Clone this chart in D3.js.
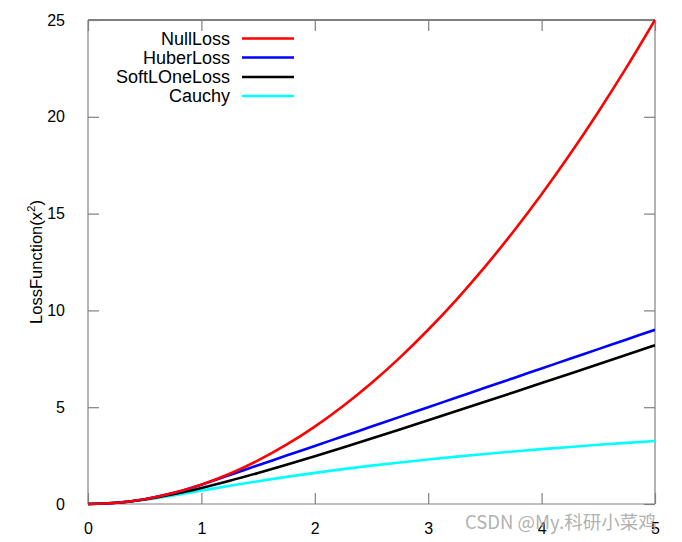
<!DOCTYPE html>
<html><head><meta charset="utf-8">
<script src="https://cdn.jsdelivr.net/npm/d3@7/dist/d3.min.js"></script>
<style>body{margin:0;background:#fff;} svg{display:block;}</style>
</head><body><svg id="c" width="682" height="542"></svg>
<script>
const xs = [0,0.25,0.5,0.75,1,1.25,1.5,1.75,2,2.25,2.5,2.75,3,3.25,3.5,3.75,4,4.25,4.5,4.75,5];
const nullLoss = [0,0.0625,0.25,0.5625,1,1.5625,2.25,3.0625,4,5.0625,6.25,7.5625,9,10.5625,12.25,14.0625,16,18.0625,20.25,22.5625,25];
const huberLoss = [0,0.0625,0.25,0.5625,1,1.5,2,2.5,3,3.5,4,4.5,5,5.5,6,6.5,7,7.5,8,8.5,9];
const softLOneLoss = [0,0.0616,0.2361,0.5,0.8284,1.2016,1.6056,2.0311,2.4721,2.9244,3.3852,3.8524,4.3246,4.8007,5.2801,5.7621,6.2462,6.7321,7.2195,7.7082,8.198];
const cauchy = [0,0.0606,0.2231,0.4463,0.6931,0.941,1.1787,1.4018,1.6094,1.8021,1.981,2.1474,2.3026,2.4477,2.584,2.7122,2.8332,2.9477,3.0564,3.1596,3.2581];
const seriesNames = ["NullLoss","HuberLoss","SoftLOneLoss","Cauchy"];
const seriesColors = ["#ff0000","#0000ff","#000000","#00ffff"];
const xTicks = [0,1,2,3,4,5];
const yTicks = [0,5,10,15,20,25];
const yLabel = "LossFunction(x";
const watermark = "CSDN @My.科研小菜鸡";

const svg = d3.select("#c");
const L=88, R=655, T=20, B=504;
const x = d3.scaleLinear().domain([0,5]).range([L,R]);
const y = d3.scaleLinear().domain([0,25]).range([B,T]);
const font = "'Liberation Sans', Arial, sans-serif";
const tickLen = 11;
const grey = "#808080";

// frame
svg.append("line").attr("x1",L).attr("x2",L).attr("y1",T).attr("y2",B).attr("stroke",grey).attr("stroke-width",1.2);
svg.append("line").attr("x1",R).attr("x2",R).attr("y1",T).attr("y2",B).attr("stroke",grey).attr("stroke-width",1.2);
svg.append("line").attr("x1",L).attr("x2",R).attr("y1",B).attr("y2",B).attr("stroke",grey).attr("stroke-width",1.2);
svg.append("line").attr("x1",L).attr("x2",R).attr("y1",T).attr("y2",T).attr("stroke","#000").attr("stroke-width",1);

// axes with inward ticks
const yAxisL = d3.axisLeft(y).tickValues(yTicks).tickFormat(d3.format("d")).tickSizeInner(-tickLen).tickSizeOuter(0).tickPadding(tickLen+12);
const gy = svg.append("g").attr("transform",`translate(${L},0)`).call(yAxisL);
gy.select(".domain").remove();
gy.selectAll("line").attr("stroke",grey).attr("stroke-width",1.2);
gy.selectAll("text").attr("font-family",font).attr("font-size",16).attr("fill","#000");

const yAxisR = d3.axisRight(y).tickValues(yTicks).tickSizeInner(-tickLen).tickSizeOuter(0).tickFormat("");
const gyr = svg.append("g").attr("transform",`translate(${R},0)`).call(yAxisR);
gyr.select(".domain").remove();
gyr.selectAll("line").attr("stroke",grey).attr("stroke-width",1.2);

const xAxisB = d3.axisBottom(x).tickValues(xTicks).tickFormat(d3.format("d")).tickSizeInner(-tickLen).tickSizeOuter(0).tickPadding(tickLen+8);
const gx = svg.append("g").attr("transform",`translate(0,${B})`).call(xAxisB);
gx.select(".domain").remove();
gx.selectAll("line").attr("stroke",grey).attr("stroke-width",1.2);
gx.selectAll("text").attr("font-family",font).attr("font-size",16).attr("fill","#000");

const xAxisT = d3.axisTop(x).tickValues(xTicks).tickSizeInner(-tickLen).tickSizeOuter(0).tickFormat("");
const gxt = svg.append("g").attr("transform",`translate(0,${T})`).call(xAxisT);
gxt.select(".domain").remove();
gxt.selectAll("line").attr("stroke",grey).attr("stroke-width",1.2);

// y label
const yl = svg.append("text").attr("transform",`translate(42,${262}) rotate(-90)`)
  .attr("text-anchor","middle").attr("font-family",font).attr("font-size",16.5).attr("fill","#000");
yl.append("tspan").text(yLabel);
yl.append("tspan").attr("dy",-7).attr("font-size",11.5).text("2");
yl.append("tspan").attr("dy",7).text(")");

// curves
const allSeries = [nullLoss,huberLoss,softLOneLoss,cauchy];
const line = d3.line().x(d=>x(d[0])).y(d=>y(d[1])).curve(d3.curveMonotoneX);
svg.append("clipPath").attr("id","pc").append("rect").attr("x",L).attr("y",T-2).attr("width",R-L).attr("height",B-T+4);
allSeries.slice().reverse().forEach((s,ri)=>{
  const i = allSeries.length-1-ri;
  svg.append("path").datum(xs.map((v,k)=>[v,s[k]]))
    .attr("d",line).attr("fill","none").attr("stroke",seriesColors[i]).attr("stroke-width",2.6)
    .attr("stroke-linejoin","round").attr("clip-path","url(#pc)");
});

// legend
const legY = [38.5,57.5,77,96];
seriesNames.forEach((n,i)=>{
  svg.append("text").attr("x",230).attr("y",legY[i]).attr("dy","0.35em").attr("text-anchor","end")
    .attr("font-family",font).attr("font-size",18).attr("fill","#000").text(n);
  svg.append("line").attr("x1",242).attr("x2",294).attr("y1",legY[i]).attr("y2",legY[i])
    .attr("stroke",seriesColors[i]).attr("stroke-width",2.6);
});

// watermark
svg.append("text").attr("x",465).attr("y",529).attr("font-family","'Noto Sans CJK SC', sans-serif")
  .attr("font-size",18.5).attr("fill","#a8a8a8").attr("fill-opacity",0.9).text(watermark);
</script></body></html>
